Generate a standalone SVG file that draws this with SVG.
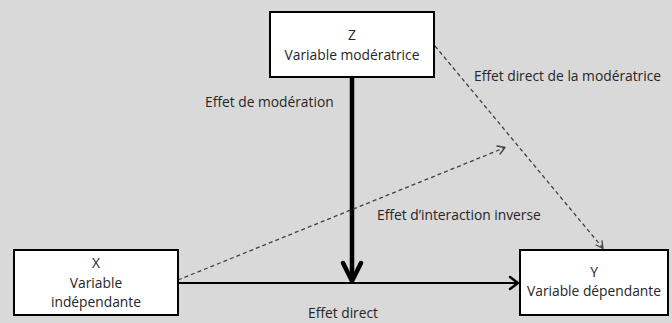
<svg xmlns="http://www.w3.org/2000/svg" width="672" height="323" viewBox="0 0 672 323">
  <style>
    .box { fill: #ffffff; stroke: #000000; stroke-width: 2; }
    .lbl { font-family: "Open Sans", "Liberation Sans", Arial, sans-serif; font-size: 13.8px; fill: #262626; }
    .mid { text-anchor: middle; }
    .solid { fill: none; stroke: #000000; stroke-width: 2; }
    .thick { fill: none; stroke: #000000; stroke-width: 4.5; }
    .dash { fill: none; stroke: #404040; stroke-width: 1.3; stroke-dasharray: 4 3; }
    .head { fill: none; stroke-linecap: round; stroke-linejoin: round; }
  </style>
  <rect width="672" height="323" fill="#d9d9d9"/>

  <g id="connectors">
    <!-- direct effect X -> Y -->
    <line class="solid" x1="178" y1="283" x2="518" y2="283"/>
    <polyline class="head" stroke="#000" stroke-width="2.5" points="510,277 518,283 510,289"/>
    <!-- moderation effect Z -> X-Y path -->
    <line class="thick" x1="352" y1="77" x2="352" y2="280"/>
    <polyline class="head" stroke="#000" stroke-width="4.5" points="343,263 352,281 361,263"/>
    <!-- inverse interaction effect -->
    <line class="dash" x1="178" y1="280" x2="504" y2="148"/>
    <polyline class="head" stroke="#404040" stroke-width="1.3" points="497,146 505,147.5 500,154"/>
    <!-- direct effect of the moderator -->
    <line class="dash" x1="435" y1="46" x2="602" y2="247"/>
    <polyline class="head" stroke="#404040" stroke-width="1.3" points="596,245 603,248.5 602,241"/>
  </g>

  <g id="node-z">
    <rect class="box" x="270" y="12" width="164" height="65"/>
    <text class="lbl mid" x="352" y="40">Z</text>
    <text class="lbl mid" x="352" y="60">Variable modératrice</text>
  </g>

  <g id="node-x">
    <rect class="box" x="14" y="250" width="164" height="65"/>
    <text class="lbl mid" x="96" y="268">X</text>
    <text class="lbl mid" x="96" y="288">Variable</text>
    <text class="lbl mid" x="96" y="307">indépendante</text>
  </g>

  <g id="node-y">
    <rect class="box" x="520" y="250" width="148" height="65"/>
    <text class="lbl mid" x="594" y="277">Y</text>
    <text class="lbl mid" x="594" y="296">Variable dépendante</text>
  </g>

  <g id="labels">
    <text class="lbl" x="205" y="107">Effet de modération</text>
    <text class="lbl" x="474" y="81">Effet direct de la modératrice</text>
    <text class="lbl" x="377" y="220">Effet d’interaction inverse</text>
    <text class="lbl" x="308" y="318">Effet direct</text>
  </g>
</svg>
